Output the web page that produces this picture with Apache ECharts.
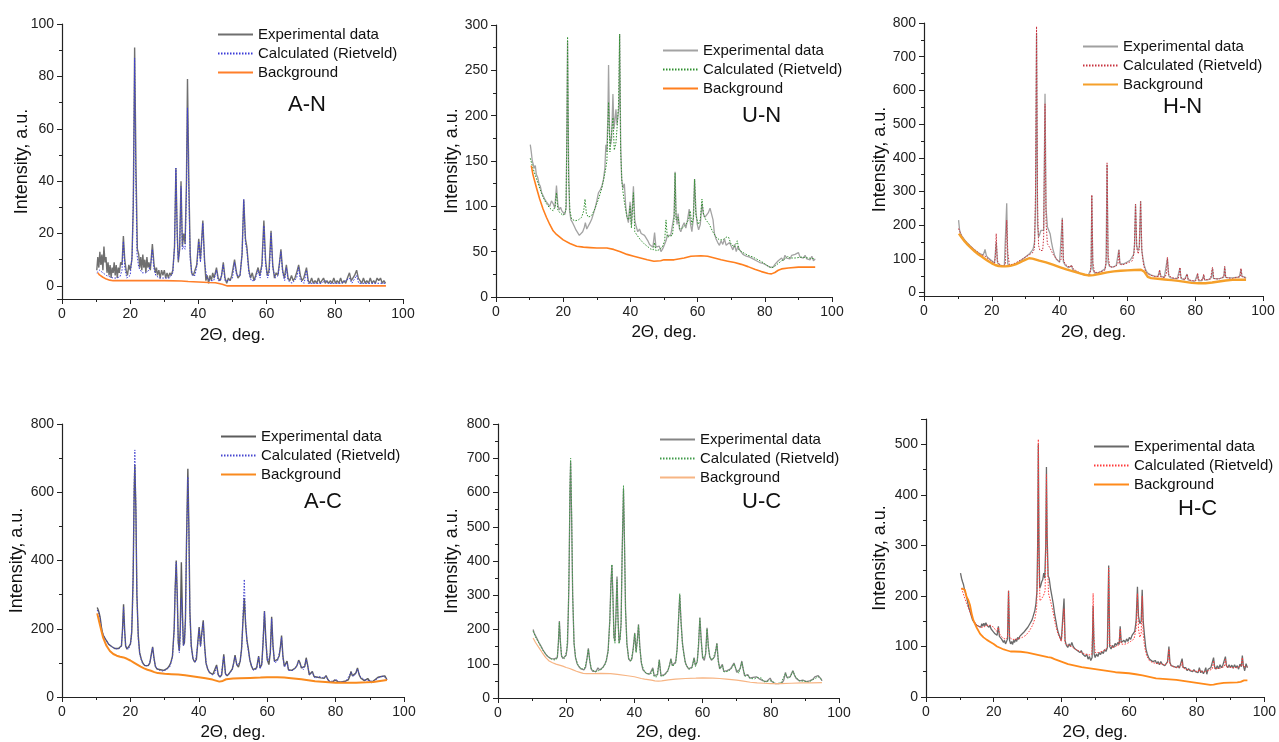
<!DOCTYPE html>
<html>
<head>
<meta charset="utf-8">
<title>XRD Rietveld refinement</title>
<script src="https://cdn.jsdelivr.net/npm/echarts@6/dist/echarts.min.js"></script>
<style>
  html, body { margin: 0; padding: 0; background: #fff; }
  #chart { width: 1279px; height: 742px; }
</style>
</head>
<body>
<div id="chart"></div>
<script>
// ---- Panel labels and legend entries ----
const panelNames = ['A-N', 'U-N', 'H-N', 'A-C', 'U-C', 'H-C'];
const legendNames = ['Experimental data', 'Calculated (Rietveld)', 'Background'];
const xTitle = '2\u0398, deg.';
const yTitle = 'Intensity, a.u.';

// ---- Diffraction data: flat [2theta, intensity, ...] lists ----
// A-N
const anExp = [10.2,6, 10.5,11, 10.8,7, 11.1,13, 11.4,8, 11.7,12, 12.0,6, 12.3,15, 12.6,9, 12.9,11, 13.2,5, 13.5,9, 13.8,4, 14.1,8, 14.4,3, 14.7,7, 15.0,5, 15.3,9, 15.6,4, 15.9,8, 16.2,3, 16.5,7, 16.8,5, 17.2,9, 17.6,8, 18.0,19, 18.4,10, 18.8,6, 19.2,4, 19.6,8, 20.0,6, 20.5,10, 20.9,30, 21.3,91, 21.7,45, 22.1,14, 22.5,12, 22.8,7, 23.1,11, 23.4,6, 23.7,12, 24.0,7, 24.3,10, 24.6,5, 24.9,11, 25.2,7, 25.5,9, 25.9,6, 26.5,16, 27.0,8, 27.4,5, 27.7,7, 28.0,4, 28.4,6, 28.8,3, 29.2,6, 29.6,4, 30.0,6, 30.4,3, 30.8,5, 31.2,3, 31.6,5, 32.0,4, 32.5,6, 33.0,15, 33.4,45, 33.8,20, 34.1,9, 34.5,14, 34.9,40, 35.3,15, 35.7,20, 36.1,16, 36.5,40, 36.8,79, 37.2,40, 37.6,12, 38.0,5, 38.5,4, 39.0,6, 39.5,8, 40.1,18, 40.6,10, 41.3,25, 41.8,10, 42.2,2, 42.6,4, 43.0,1, 43.4,4, 43.8,2, 44.2,5, 44.6,3, 45.3,7, 45.8,3, 46.3,2, 46.8,4, 47.3,9, 47.8,3, 48.3,1, 48.8,3, 49.3,2, 49.8,4, 50.6,10, 51.2,5, 51.6,3, 52.2,4, 52.8,12, 53.3,33, 53.8,18, 54.2,15, 54.8,6, 55.3,3, 55.8,5, 56.3,2, 56.8,4, 57.5,7, 58.0,4, 58.6,8, 59.2,25, 59.7,10, 60.2,4, 60.7,6, 61.3,21, 61.8,8, 62.3,3, 62.8,5, 63.3,4, 63.8,9, 64.2,14, 64.7,6, 65.2,3, 65.8,8, 66.3,3, 66.8,2, 67.3,4, 67.8,2, 68.3,3, 68.8,5, 69.4,8, 69.9,4, 70.4,2, 70.9,3, 71.7,7, 72.2,2, 72.7,1, 73.2,3, 73.7,1, 74.2,2, 74.7,1, 75.2,3, 75.7,1, 76.2,2, 76.7,3, 77.2,1, 77.7,2, 78.2,1, 78.7,2, 79.2,1, 79.7,3, 80.2,1, 80.7,2, 81.2,1, 81.7,3, 82.2,1, 82.7,2, 83.2,1, 83.7,3, 84.3,5, 84.8,2, 85.3,3, 85.8,4, 86.4,6, 86.9,3, 87.4,2, 87.9,1, 88.4,3, 88.9,1, 89.4,2, 89.9,1, 90.4,3, 90.9,1, 91.4,2, 91.9,1, 92.4,3, 92.9,2, 93.4,3, 93.9,1, 94.4,2, 94.9,1, 95.0,1];
const anCalc = [10.2,5, 11,6, 12,5, 13,4, 14,3.5, 15,3, 16,3, 17,3.5, 17.6,6, 18,17, 18.4,7, 19,3, 20,4, 20.6,12, 21.0,40, 21.3,87, 21.6,45, 22.0,12, 22.5,7, 23.5,5, 24.5,5, 25.5,6, 26.1,9, 26.5,14, 26.9,7, 27.5,4, 28.5,3, 30,3, 31.5,3, 32.5,5, 33.0,15, 33.4,45, 33.8,18, 34.1,10, 34.5,14, 34.9,38, 35.3,14, 35.7,15, 36.1,14, 36.5,35, 36.8,68, 37.2,35, 37.6,10, 38.2,4, 39.0,4, 39.6,8, 40.1,17, 40.6,9, 41.3,24, 41.8,9, 42.5,3, 43.5,2, 44.5,2, 45.3,6, 45.8,2, 46.5,2, 47.3,8, 47.8,2, 49,2, 50,3, 50.6,9, 51.2,4, 52.2,4, 52.8,12, 53.3,33, 53.8,16, 54.2,14, 54.8,5, 55.5,2, 56.5,2, 57.5,6, 58.1,3, 58.7,8, 59.2,23, 59.7,8, 60.3,3, 60.8,5, 61.3,20, 61.8,7, 62.5,3, 63.4,4, 63.9,10, 64.2,13, 64.7,5, 65.3,2, 65.8,7, 66.3,2, 67.5,1, 68.8,3, 69.4,7, 69.9,2, 71,1, 71.7,6, 72.2,1, 74,1, 76,1, 77.2,2, 78,1, 80,1, 82,1, 84.3,3, 85,1, 86.4,4, 87,1, 90,1, 92,1, 95,1];
const anBg = [10.5,5, 11,4.2, 12,3.3, 13,2.6, 14,2.2, 15,2, 20,2, 25,2, 30,2, 35,1.9, 37,1.7, 40,1.5, 43,1.3, 45,1.2, 47,0.6, 48.5,0, 60,0, 70,0, 80,0, 90,0, 95,0];

// U-N
const unExp = [10.2,168, 10.5,160, 10.8,150, 11.1,152, 11.4,142, 11.7,145, 12.0,135, 12.4,132, 12.8,125, 13.2,122, 13.6,115, 14.0,113, 14.5,108, 15.0,105, 15.5,103, 16.0,100, 16.5,106, 17.0,103, 17.5,98, 18.0,123, 18.4,102, 18.8,96, 19.2,99, 19.6,95, 20.0,93, 20.5,91, 20.9,100, 21.3,282, 21.6,150, 21.9,95, 22.3,85, 22.8,82, 23.3,78, 23.8,74, 24.3,71, 24.8,68, 25.3,70, 25.8,72, 26.3,77, 26.6,82, 27.0,75, 27.5,77, 28.0,82, 28.5,86, 29.0,92, 29.5,98, 30.0,106, 30.5,115, 31.0,118, 31.5,122, 32.0,130, 32.4,142, 32.7,168, 33.0,160, 33.3,200, 33.5,256, 33.8,180, 34.1,168, 34.4,175, 34.8,224, 35.1,185, 35.4,195, 35.7,207, 36.0,190, 36.3,200, 36.6,210, 36.8,290, 37.1,170, 37.4,130, 37.8,120, 38.2,125, 38.6,100, 39.0,88, 39.4,82, 39.9,105, 40.3,80, 40.6,78, 40.9,122, 41.3,85, 41.7,78, 42.2,72, 42.7,75, 43.2,70, 43.7,72, 44.2,68, 44.7,66, 45.2,62, 45.7,58, 46.2,58, 46.7,55, 47.2,71, 47.6,55, 48.1,53, 48.6,56, 49.1,50, 49.6,53, 50.1,55, 50.6,62, 51.0,68, 51.5,66, 52.0,68, 52.5,70, 53.0,90, 53.3,138, 53.6,90, 53.9,80, 54.2,92, 54.6,75, 55.0,72, 55.5,78, 56.0,82, 56.5,76, 57.0,85, 57.5,97, 57.9,80, 58.3,72, 58.7,85, 59.1,130, 59.5,95, 59.9,80, 60.3,74, 60.8,80, 61.3,103, 61.7,92, 62.2,88, 62.7,90, 63.2,93, 63.7,98, 64.2,96, 64.6,85, 65.0,70, 65.5,64, 66.0,60, 66.5,57, 67.0,62, 67.5,58, 68.0,64, 68.5,57, 69.0,55, 69.5,60, 70.0,56, 70.5,52, 71.0,58, 71.5,50, 72.0,56, 72.5,52, 73.0,50, 73.5,47, 74.0,49, 74.5,45, 75.0,47, 75.5,44, 76.0,45, 76.5,42, 77.0,44, 77.5,40, 78.0,42, 78.5,38, 79.0,40, 79.5,37, 80.0,38, 80.5,35, 81.0,37, 81.5,33, 82.0,34, 82.5,33, 83.0,36, 83.5,35, 84.0,40, 84.5,38, 85.0,43, 85.5,40, 86.0,46, 86.5,43, 87.0,44, 87.5,42, 88.0,46, 88.5,44, 89.0,47, 89.5,45, 90.0,49, 90.5,44, 91.0,46, 91.5,43, 92.0,46, 92.5,42, 93.0,44, 93.5,41, 94.0,45, 94.5,40, 95.0,42];
const unCalc = [10.2,153, 11,142, 12,131, 13,120, 14,110, 15,103, 16,98, 17,95, 17.6,100, 18.0,115, 18.4,96, 19,93, 20,90, 20.8,95, 21.1,180, 21.3,287, 21.6,130, 22,95, 22.5,86, 23.5,84, 24.5,85, 25.5,88, 26.1,95, 26.5,108, 26.9,92, 27.5,88, 28.5,90, 29.5,98, 30.5,108, 31.5,120, 32.5,138, 33.0,150, 33.5,215, 33.9,160, 34.4,162, 34.8,198, 35.2,162, 35.7,170, 36.2,195, 36.5,215, 36.8,290, 37.1,160, 37.5,125, 38,110, 38.5,98, 39,88, 39.5,85, 39.9,100, 40.3,76, 40.9,115, 41.3,72, 42,68, 43,63, 44,59, 45,56, 46,53, 46.8,52, 47.2,60, 47.6,51, 48.5,52, 49.5,55, 50.2,62, 50.6,85, 51,66, 51.5,66, 52.5,68, 53.0,85, 53.3,137, 53.6,85, 54.2,88, 54.7,75, 55.5,76, 56.5,80, 57.3,85, 57.8,95, 58.3,80, 58.8,88, 59.1,130, 59.5,90, 60.2,80, 60.8,85, 61.3,108, 61.8,90, 62.5,85, 63.5,80, 64.5,72, 65.5,66, 66.5,63, 67.5,63, 68.5,66, 69.2,66, 70,58, 71,55, 71.8,62, 72.3,52, 73.5,49, 75,46, 76.5,44, 78,41, 79.5,38, 81,34, 82,32, 83,34, 84,37, 85,40, 86,42, 86.8,45, 87.5,43, 89,43, 91,44, 93,43, 95,42];
const unBg = [10.5,145, 11,135, 12,121, 13,108, 14,97, 15,88, 16,80, 17,73, 18,69, 19,66, 20,63, 22,59, 24,56, 26,55, 28,54.5, 30,54, 33,54, 35,52.5, 37,50, 39,47, 41,45, 43,43, 45,41, 47,39.5, 49,40, 50,41, 53,41, 56,43, 58,45, 61,45.5, 63,45, 65,43, 67,41, 69,39.5, 71,38, 73,36, 75,33.5, 77,30.5, 79,28, 81,26, 82,25.5, 83,27, 84,29.5, 85,31, 87,32, 90,33, 93,33, 95,33];

// H-N
const hnExp = [10.2,215, 10.5,185, 10.8,175, 11.2,168, 11.6,162, 12.0,158, 12.5,150, 13.0,145, 13.5,140, 14.0,136, 14.5,130, 15.0,128, 15.5,122, 16.0,120, 16.5,115, 17.0,118, 17.5,112, 18.0,128, 18.4,110, 18.8,104, 19.3,100, 19.8,96, 20.3,92, 20.8,88, 21.3,150, 21.7,88, 22.2,84, 22.7,80, 23.2,79, 23.7,80, 24.1,85, 24.4,265, 24.7,85, 25.2,78, 25.7,80, 26.2,82, 26.7,84, 27.2,86, 27.7,88, 28.2,92, 28.7,96, 29.2,100, 29.7,104, 30.2,108, 30.7,112, 31.2,116, 31.7,122, 32.2,130, 32.6,150, 32.9,250, 33.2,770, 33.5,200, 33.8,165, 34.1,172, 34.5,185, 34.9,180, 35.3,185, 35.7,590, 36.0,250, 36.4,195, 36.8,198, 37.2,175, 37.6,150, 38.0,130, 38.5,112, 39.0,100, 39.5,95, 40.0,90, 40.5,95, 40.8,222, 41.1,92, 41.6,82, 42.1,78, 42.6,74, 43.1,72, 43.5,80, 43.9,68, 44.5,64, 45.0,62, 45.5,60, 46.0,57, 46.5,55, 47.0,54, 47.5,52, 48.0,52, 48.5,53, 49.0,55, 49.3,70, 49.5,288, 49.8,70, 50.3,58, 50.8,57, 51.3,59, 51.8,61, 52.3,63, 52.8,66, 53.3,70, 53.7,85, 54.0,380, 54.3,90, 54.7,78, 55.2,74, 55.7,76, 56.2,78, 56.7,80, 57.2,85, 57.5,128, 57.8,85, 58.3,82, 58.8,85, 59.3,88, 59.8,90, 60.3,93, 60.8,96, 61.3,100, 61.8,112, 62.1,140, 62.4,262, 62.7,140, 63.1,125, 63.5,135, 63.9,272, 64.2,130, 64.6,100, 65.0,80, 65.5,65, 66.0,58, 66.5,55, 67.0,52, 67.5,50, 68.0,49, 68.5,47, 69.0,48, 69.5,65, 69.9,48, 70.4,46, 70.9,45, 71.4,50, 71.8,102, 72.2,50, 72.7,44, 73.2,43, 73.7,42, 74.2,44, 74.7,41, 75.2,45, 75.5,73, 75.8,42, 76.3,40, 76.8,38, 77.3,40, 77.6,55, 77.9,38, 78.4,36, 78.9,35, 79.4,36, 79.9,34, 80.4,36, 80.7,55, 81.0,35, 81.5,34, 82.0,36, 82.5,52, 82.8,37, 83.3,36, 83.8,38, 84.3,37, 84.8,45, 85.1,72, 85.4,42, 85.9,40, 86.4,41, 86.9,40, 87.4,42, 87.9,41, 88.4,45, 88.7,76, 89.0,45, 89.5,43, 90.0,44, 90.5,42, 91.0,44, 91.5,43, 92.0,45, 92.5,42, 93.0,46, 93.5,70, 93.8,48, 94.3,44, 94.7,46, 95.0,42];
const hnCalc = [10.2,190, 11,170, 12,155, 13,145, 14,135, 15,127, 16,119, 17,112, 18,108, 19,100, 20,92, 20.8,87, 21.1,110, 21.3,175, 21.6,95, 22.2,84, 23,80, 24.0,82, 24.2,150, 24.4,215, 24.7,120, 25.2,82, 26,84, 27,88, 28,94, 29,100, 30,106, 31,112, 32,118, 32.6,130, 32.9,300, 33.2,790, 33.5,260, 33.8,140, 34.2,125, 34.6,120, 35.0,125, 35.3,165, 35.7,560, 36.0,210, 36.4,145, 36.8,140, 37.3,130, 38,115, 39,100, 40,92, 40.5,100, 40.8,218, 41.1,100, 41.6,85, 42.5,78, 43.2,75, 43.5,82, 43.9,72, 45,64, 46,58, 47,54, 48,52, 49,54, 49.3,90, 49.5,290, 49.8,90, 50.3,60, 51.5,60, 52.5,63, 53.5,68, 53.8,110, 54.0,385, 54.3,110, 54.8,78, 55.5,75, 56.5,78, 57.2,85, 57.5,125, 57.8,85, 58.5,82, 59.5,86, 60.5,90, 61.5,95, 62.0,120, 62.4,262, 62.8,130, 63.2,115, 63.5,130, 63.9,270, 64.3,120, 64.8,80, 65.5,60, 66.5,53, 68,48, 69.2,48, 69.5,68, 69.8,47, 71,45, 71.5,55, 71.8,105, 72.1,55, 73,44, 75,42, 75.2,50, 75.5,75, 75.8,45, 77,38, 77.6,55, 78,38, 80,34, 80.5,40, 80.7,58, 81,38, 82.3,38, 82.5,55, 82.8,38, 84.5,40, 85.1,75, 85.5,42, 87,40, 88.5,48, 88.7,78, 89,45, 91,42, 93.3,48, 93.5,72, 93.8,48, 95,42];
const hnBg = [10.3,175, 11,165, 12,152, 13,141, 14,131, 15,122, 16,114, 17,107, 18,100, 19,93, 20,87, 21,82, 22,79, 23,78, 24,78, 25,79, 26,81, 27,84, 28,88, 29,93, 30,98, 31,102, 31.5,103, 32,101, 33,98, 34,95, 36,90, 38,83, 40,76, 42,69, 44,63, 46,57, 47.5,53, 48.5,51, 50,52, 52,56, 54,60, 56,63, 58,65, 60,66, 62,67, 64,68, 65,62, 66,47, 67,43, 69,41, 71,39, 73,37, 75,35, 77,32, 79,29, 81,28, 83,28, 85,30, 87,33, 89,36, 91,38, 93,38, 95,38];

// A-C
const acExp = [10.3,262, 10.6,255, 10.9,245, 11.2,230, 11.6,200, 12.0,182, 12.4,175, 12.8,168, 13.2,162, 13.6,155, 14.0,152, 14.5,148, 15.0,145, 15.5,142, 16.0,140, 16.5,142, 17.0,140, 17.4,150, 17.7,200, 18.0,272, 18.3,200, 18.6,150, 19.0,140, 19.5,142, 20.0,155, 20.4,190, 20.8,350, 21.1,600, 21.3,680, 21.6,550, 21.9,300, 22.3,180, 22.7,130, 23.2,110, 23.7,98, 24.2,92, 24.7,90, 25.2,92, 25.7,100, 26.1,125, 26.5,147, 26.9,115, 27.3,90, 27.8,82, 28.3,78, 28.8,80, 29.3,76, 29.8,78, 30.3,80, 30.8,84, 31.3,90, 31.8,100, 32.3,120, 32.8,200, 33.1,320, 33.4,400, 33.7,300, 34.0,160, 34.3,135, 34.6,210, 34.9,395, 35.2,250, 35.5,152, 35.8,160, 36.1,230, 36.4,450, 36.8,669, 37.1,500, 37.4,250, 37.8,150, 38.3,112, 38.8,102, 39.3,110, 39.7,160, 40.1,205, 40.5,150, 40.9,190, 41.3,225, 41.7,150, 42.1,100, 42.6,82, 43.1,72, 43.6,68, 44.1,66, 44.6,70, 45.2,94, 45.7,65, 46.2,58, 46.7,65, 47.3,125, 47.8,68, 48.3,62, 48.8,68, 49.3,75, 49.8,82, 50.2,100, 50.6,123, 51.1,95, 51.6,88, 52.1,105, 52.5,140, 52.9,220, 53.3,290, 53.7,210, 54.1,165, 54.5,140, 54.9,110, 55.4,90, 55.9,80, 56.4,75, 56.9,85, 57.5,120, 57.9,85, 58.4,95, 58.8,160, 59.2,252, 59.6,170, 60.0,110, 60.5,95, 60.9,130, 61.3,235, 61.7,150, 62.1,105, 62.6,100, 63.0,110, 63.5,120, 63.9,150, 64.2,180, 64.6,120, 65.0,90, 65.4,85, 65.8,105, 66.2,80, 66.7,75, 67.2,78, 67.7,82, 68.2,85, 68.7,92, 69.2,108, 69.6,100, 70.0,85, 70.5,80, 71.0,90, 71.4,115, 71.8,95, 72.3,65, 72.8,68, 73.2,75, 73.7,60, 74.2,55, 74.7,58, 75.2,62, 75.7,56, 76.2,60, 76.7,55, 77.2,63, 77.7,52, 78.2,45, 78.7,47, 79.2,44, 79.7,50, 80.2,55, 80.7,45, 81.2,42, 81.7,44, 82.2,43, 82.7,46, 83.2,45, 83.7,50, 84.2,62, 84.5,75, 84.9,62, 85.4,58, 85.9,70, 86.4,85, 86.9,65, 87.4,55, 87.9,52, 88.4,48, 88.9,50, 89.4,54, 89.9,48, 90.4,42, 90.9,45, 91.4,50, 91.9,55, 92.4,58, 92.9,62, 93.4,60, 93.9,65, 94.4,62, 94.8,55, 95.0,50];
const acCalc = [10.3,255, 11,238, 11.6,195, 12.5,172, 13.5,156, 14.5,148, 15.5,142, 16.5,140, 17.3,148, 17.7,190, 18.0,262, 18.3,190, 18.7,145, 19.5,140, 20.2,165, 20.6,250, 20.9,420, 21.1,620, 21.3,724, 21.6,560, 21.9,300, 22.3,170, 22.8,122, 23.5,100, 24.5,90, 25.5,96, 26.1,120, 26.5,145, 26.9,110, 27.4,88, 28.5,78, 29.5,76, 30.5,80, 31.5,88, 32.3,115, 32.8,195, 33.1,320, 33.4,395, 33.7,290, 34.0,160, 34.3,130, 34.6,180, 34.9,290, 35.2,230, 35.5,150, 35.8,160, 36.1,225, 36.4,440, 36.8,645, 37.1,480, 37.4,240, 37.8,145, 38.4,108, 39.0,102, 39.7,155, 40.1,200, 40.5,148, 40.9,185, 41.3,218, 41.7,145, 42.2,95, 43,72, 44,65, 44.7,70, 45.2,90, 45.7,62, 46.5,60, 47.3,120, 47.8,65, 48.8,66, 49.8,80, 50.6,118, 51.2,92, 52.1,105, 52.6,150, 53.0,260, 53.3,345, 53.7,220, 54.1,160, 54.5,135, 55,105, 56,78, 56.9,82, 57.5,118, 57.9,82, 58.5,100, 58.9,190, 59.2,250, 59.6,160, 60.1,105, 60.9,125, 61.3,230, 61.7,145, 62.2,100, 63,105, 63.8,140, 64.2,175, 64.6,115, 65.1,88, 65.8,100, 66.3,78, 67.5,78, 68.5,88, 69.2,105, 69.8,92, 70.6,80, 71.4,110, 71.9,88, 72.4,65, 73.2,72, 74,55, 75.2,60, 76.2,57, 77.2,60, 78,47, 79.5,46, 80.2,52, 81,44, 83,45, 84.5,72, 85.2,60, 85.9,68, 86.4,82, 87.2,60, 88.5,50, 90,48, 91,45, 92.5,56, 93.9,62, 95,52];
const acBg = [10.3,245, 11,215, 11.5,195, 12,175, 13,150, 14,135, 15,126, 16,121, 17,118, 18,116, 19,112, 20,107, 21,101, 22,95, 23,89, 24,84, 25,80, 26,77, 27,73, 28,70, 30,68, 32,67, 34,66, 36,64, 38,61, 40,58, 42,55, 44,51, 45,48, 46,45, 47,47, 48,52, 50,54, 52,55, 55,56, 58,57, 60,58, 63,58, 65,57, 67,55, 70,52, 72,49, 74,46, 76,45, 78,43, 80,42, 83,42, 86,42, 89,43, 91,44, 93,47, 95,50];

// U-C
const ucExp = [10.3,200, 10.6,190, 10.9,185, 11.2,178, 11.6,170, 12.0,162, 12.4,155, 12.8,148, 13.2,140, 13.6,135, 14.0,128, 14.5,122, 15.0,118, 15.5,115, 16.0,112, 16.5,114, 17.0,112, 17.4,118, 17.7,160, 18.0,225, 18.3,165, 18.6,125, 19.0,115, 19.5,115, 20.0,125, 20.4,160, 20.8,330, 21.1,600, 21.3,690, 21.6,520, 21.9,300, 22.3,160, 22.7,120, 23.2,100, 23.7,92, 24.2,86, 24.7,82, 25.2,82, 25.7,90, 26.1,115, 26.5,145, 26.9,110, 27.3,85, 27.8,78, 28.3,75, 28.8,78, 29.3,88, 29.8,82, 30.3,85, 30.8,90, 31.3,98, 31.8,110, 32.3,140, 32.8,230, 33.1,330, 33.4,388, 33.7,300, 34.0,180, 34.3,165, 34.6,250, 34.9,355, 35.2,230, 35.5,162, 35.8,175, 36.1,220, 36.4,420, 36.8,610, 37.1,450, 37.4,260, 37.8,160, 38.3,115, 38.8,108, 39.3,115, 39.7,150, 40.1,190, 40.5,135, 40.9,175, 41.2,215, 41.6,150, 42.0,105, 42.5,82, 43.0,78, 43.5,72, 44.0,76, 44.5,70, 45.0,75, 45.4,88, 45.8,65, 46.3,60, 46.8,68, 47.3,112, 47.8,65, 48.3,60, 48.8,68, 49.3,72, 49.8,80, 50.3,95, 50.7,115, 51.1,95, 51.6,92, 52.1,105, 52.5,140, 52.9,220, 53.3,300, 53.7,220, 54.1,160, 54.5,130, 54.9,105, 55.4,92, 55.9,85, 56.4,82, 56.9,90, 57.5,118, 57.9,95, 58.4,105, 58.8,150, 59.2,235, 59.6,170, 60.0,118, 60.5,110, 60.9,130, 61.3,205, 61.7,150, 62.1,120, 62.6,110, 63.0,115, 63.5,120, 63.9,140, 64.2,160, 64.6,110, 65.0,85, 65.4,88, 65.8,98, 66.2,78, 66.7,75, 67.2,80, 67.7,78, 68.2,85, 68.7,90, 69.2,102, 69.6,90, 70.0,75, 70.5,70, 71.0,85, 71.5,108, 71.9,85, 72.3,65, 72.8,62, 73.3,68, 73.8,58, 74.3,55, 74.8,60, 75.3,55, 75.8,62, 76.3,58, 76.8,55, 77.3,60, 77.8,50, 78.3,45, 78.8,48, 79.3,52, 79.8,58, 80.3,48, 80.8,45, 81.3,42, 81.8,40, 82.3,42, 82.8,45, 83.3,44, 83.8,52, 84.3,75, 84.7,60, 85.2,55, 85.7,62, 86.1,72, 86.5,80, 86.9,68, 87.4,58, 87.9,55, 88.4,50, 88.9,48, 89.4,52, 89.9,50, 90.4,48, 90.9,45, 91.4,50, 91.9,52, 92.4,55, 92.9,62, 93.4,58, 93.9,65, 94.4,60, 94.8,55, 95.0,50];
const ucCalc = [10.3,195, 11,178, 12,160, 13,142, 14,128, 15,118, 16,112, 17,111, 17.4,120, 17.7,160, 18.0,222, 18.3,160, 18.7,120, 19.5,115, 20.2,140, 20.6,240, 20.9,420, 21.1,620, 21.3,700, 21.6,540, 21.9,300, 22.3,160, 22.8,115, 23.5,95, 24.5,85, 25.5,88, 26.1,115, 26.5,143, 26.9,108, 27.4,85, 28.5,76, 29.5,80, 30.5,85, 31.5,100, 32.3,135, 32.8,225, 33.1,330, 33.4,390, 33.7,295, 34.0,175, 34.3,160, 34.6,235, 34.9,345, 35.2,225, 35.5,158, 35.8,170, 36.1,215, 36.4,415, 36.8,620, 37.1,455, 37.4,255, 37.8,155, 38.4,112, 39.0,108, 39.7,145, 40.1,188, 40.5,132, 40.9,172, 41.2,212, 41.6,145, 42.1,100, 43,76, 44,70, 45,72, 45.4,85, 45.8,62, 46.6,62, 47.3,110, 47.8,63, 48.8,66, 49.8,78, 50.7,112, 51.2,92, 52.1,102, 52.6,150, 53.0,240, 53.3,305, 53.7,215, 54.1,155, 54.5,128, 55,100, 56,84, 56.9,88, 57.5,115, 57.9,92, 58.5,110, 58.9,180, 59.2,232, 59.6,160, 60.1,115, 60.9,128, 61.3,202, 61.7,145, 62.2,115, 63,112, 63.8,138, 64.2,158, 64.6,105, 65.1,85, 65.8,95, 66.3,76, 67.5,78, 68.5,86, 69.2,100, 69.8,85, 70.6,72, 71.5,105, 72,80, 72.5,63, 73.3,66, 74,57, 75.3,56, 76,60, 77.3,58, 78,47, 79.5,50, 80.2,50, 81.5,42, 83,44, 84.3,72, 85,57, 85.8,63, 86.5,78, 87.2,62, 88.5,50, 90,49, 91,46, 92.5,54, 93.9,62, 95,52];
const ucBg = [10.3,175, 11,162, 12,147, 13,132, 14,118, 15,108, 16,103, 17,99, 18,96, 19,93, 20,89, 21,86, 22,82, 23,78, 24,75, 25,72, 26,71, 28,71, 30,72, 33,71, 35,69, 38,65, 40,62, 42,57, 43,55, 45,52, 46,50, 47,49, 48,50, 50,53, 52,55, 55,57, 58,58, 60,59, 63,58, 65,57, 67,55, 70,52, 72,49, 74,46, 76,44, 78,43, 80,42, 83,42, 86,43, 89,44, 92,44, 95,45];

// H-C
const hcExp = [10.2,245, 10.5,235, 10.8,228, 11.1,222, 11.4,212, 11.7,205, 12.0,198, 12.3,188, 12.6,178, 12.9,172, 13.2,165, 13.5,158, 13.8,152, 14.1,150, 14.4,146, 14.7,148, 15.0,142, 15.3,145, 15.6,140, 15.9,143, 16.2,138, 16.5,145, 16.8,140, 17.1,146, 17.4,141, 17.7,147, 18.0,142, 18.3,145, 18.6,138, 18.9,142, 19.2,135, 19.5,138, 19.8,130, 20.1,132, 20.4,125, 20.7,128, 21.0,122, 21.4,140, 21.7,120, 22.0,118, 22.3,115, 22.6,112, 22.9,108, 23.2,112, 23.5,105, 23.8,110, 24.1,115, 24.4,210, 24.7,112, 25.0,105, 25.3,110, 25.6,104, 25.9,112, 26.2,108, 26.5,115, 26.8,110, 27.1,118, 27.4,114, 27.7,120, 28.0,118, 28.3,124, 28.6,122, 28.9,128, 29.2,126, 29.5,133, 29.8,131, 30.1,138, 30.4,136, 30.7,145, 31.0,143, 31.3,152, 31.6,158, 31.9,165, 32.2,172, 32.5,185, 32.8,210, 33.0,300, 33.2,500, 33.4,300, 33.6,215, 33.9,220, 34.2,228, 34.5,232, 34.8,245, 35.1,235, 35.4,300, 35.6,455, 35.8,320, 36.1,240, 36.4,235, 36.8,215, 37.2,200, 37.6,185, 38.0,165, 38.4,150, 38.8,135, 39.2,125, 39.6,118, 40.0,112, 40.4,110, 40.8,195, 41.1,112, 41.5,102, 41.9,98, 42.3,105, 42.7,100, 43.1,108, 43.5,100, 43.9,96, 44.3,98, 44.7,92, 45.1,95, 45.5,88, 45.9,92, 46.3,85, 46.7,88, 47.1,80, 47.5,85, 47.9,75, 48.3,80, 48.7,72, 49.1,78, 49.4,180, 49.7,85, 50.0,78, 50.4,85, 50.8,80, 51.2,88, 51.6,84, 52.0,90, 52.4,86, 52.8,94, 53.2,90, 53.6,98, 54.0,260, 54.3,100, 54.7,95, 55.1,102, 55.5,98, 55.9,106, 56.3,102, 56.7,108, 57.1,104, 57.4,140, 57.7,108, 58.1,105, 58.5,112, 58.9,108, 59.3,115, 59.7,110, 60.1,118, 60.5,114, 60.9,122, 61.3,120, 61.7,130, 62.1,150, 62.5,218, 62.8,160, 63.2,145, 63.6,150, 63.9,212, 64.2,150, 64.6,120, 65.0,95, 65.4,85, 65.8,78, 66.2,74, 66.6,72, 67.0,70, 67.4,68, 67.8,72, 68.2,66, 68.6,70, 69.0,64, 69.4,70, 69.8,65, 70.2,68, 70.6,62, 71.0,66, 71.4,70, 71.8,100, 72.1,68, 72.5,62, 72.9,65, 73.3,60, 73.7,63, 74.1,58, 74.5,62, 74.9,57, 75.3,60, 75.7,76, 76.0,58, 76.4,55, 76.8,58, 77.2,52, 77.6,56, 78.0,52, 78.4,55, 78.8,50, 79.2,54, 79.6,50, 80.0,53, 80.4,48, 80.8,58, 81.2,48, 81.6,52, 82.0,46, 82.4,52, 82.7,58, 83.0,45, 83.4,55, 83.8,52, 84.2,58, 84.6,55, 85.0,78, 85.3,60, 85.7,55, 86.1,62, 86.5,56, 86.9,64, 87.3,58, 87.7,62, 88.1,60, 88.5,80, 88.8,62, 89.2,58, 89.6,64, 90.0,58, 90.4,63, 90.8,57, 91.2,64, 91.6,58, 92.0,62, 92.4,55, 92.8,65, 93.2,60, 93.5,82, 93.8,62, 94.2,52, 94.6,66, 95.0,58];
const hcCalc = [10.5,215, 11,205, 12,185, 13,168, 14,152, 15,142, 16,138, 17,138, 18,142, 19,142, 20,138, 20.8,130, 21.1,128, 21.4,138, 21.7,125, 22.5,118, 23.5,114, 24.1,118, 24.4,210, 24.7,118, 25.5,114, 26.5,114, 27.5,116, 28.5,118, 29.5,122, 30.5,130, 31.5,142, 32.2,155, 32.7,175, 33.0,260, 33.2,510, 33.4,260, 33.7,190, 34.2,195, 34.7,200, 35.2,210, 35.4,280, 35.6,440, 35.8,300, 36.2,205, 36.8,190, 37.5,170, 38.2,145, 39,125, 40,110, 40.5,108, 40.8,175, 41.1,106, 42,102, 43,100, 44,95, 45,92, 46,88, 47,85, 48,83, 49,84, 49.2,120, 49.4,205, 49.6,120, 50,88, 51,88, 52,90, 53,93, 53.7,100, 54.0,255, 54.3,105, 55,98, 56,100, 57,103, 57.4,135, 57.7,105, 58.5,104, 59.5,106, 60.5,110, 61.5,115, 62.1,135, 62.5,205, 62.8,135, 63.2,118, 63.6,125, 63.9,200, 64.2,125, 64.6,100, 65.2,82, 66,72, 67,68, 68.5,66, 69.5,66, 70.5,63, 71.4,68, 71.8,95, 72.1,64, 73,60, 74.5,58, 75.4,62, 75.7,70, 76,57, 77.5,54, 79,52, 80.5,50, 80.8,55, 81.1,50, 82.5,50, 83,52, 84.6,55, 85.0,72, 85.3,56, 87,57, 88.2,60, 88.5,75, 88.8,60, 90.5,58, 92,58, 93.2,62, 93.5,78, 93.8,60, 95,60];
const hcBg = [10.5,215, 11.5,212, 12,198, 12.5,192, 13,182, 13.5,165, 14,152, 14.5,144, 15,137, 16,125, 17,118, 18,113, 19,109, 20,105, 21,100, 22,97, 23,94, 24,92, 25,90, 26,90, 28,89.5, 30,88, 32,85, 34,82, 36,79, 37,78, 38,75, 40,70, 42,65, 44,62, 46,59, 48,57, 50,55, 52,53, 54,51, 56,49, 58,48, 60,47, 62,45, 64,43, 66,40, 68,37, 70,36, 72,35, 74,34, 76,32, 78,30, 80,28, 82,26, 84,24, 85,24.5, 86,26, 88,28, 90,28.5, 92,29, 93,30, 94,33, 95,33];

// ---- Layout and styling of the six panels ----
const FONT = 'Liberation Sans, Arial, sans-serif';
const panels = [
  { grid: {left: 62, top: 24, width: 341, height: 275}, y: {min: -5, max: 100, splitNumber: 5, showMinLabel: false},
    data: [anExp, anCalc, anBg], colors: ['#6f6f6f', '#3b3bd8', '#ff7f2a'], widths: [1.4, 1, 1.6],
    title: {left: 288, top: 94}, legend: {left: 217, top: 27}, yNameGap: 31, xNameGap: 28 },
  { grid: {left: 496, top: 25, width: 336, height: 272}, y: {min: 0, max: 300, interval: 50},
    data: [unExp, unCalc, unBg], colors: ['#a3a3a3', '#2f8f2f', '#ff7f1e'], widths: [1.3, 1, 1.6],
    title: {left: 742, top: 105}, legend: {left: 662, top: 43}, yNameGap: 35, xNameGap: 27 },
  { grid: {left: 924, top: 23, width: 339, height: 273}, y: {min: -10, max: 800, splitNumber: 8, showMinLabel: false},
    data: [hnExp, hnCalc, hnBg], colors: ['#a0a0a0', '#c8323e', '#f5a02a'], widths: [1.3, 1, 2.4],
    title: {left: 1163, top: 96}, legend: {left: 1082, top: 39}, yNameGap: 35, xNameGap: 28 },
  { grid: {left: 62, top: 424, width: 342, height: 275}, y: {min: 0, max: 800, interval: 200},
    data: [acExp, acCalc, acBg], colors: ['#5c5c5c', '#4646d0', '#f98a1e'], widths: [1.4, 1, 2],
    title: {left: 304, top: 491}, legend: {left: 220, top: 429}, yNameGap: 36, xNameGap: 27 },
  { grid: {left: 498, top: 424, width: 341, height: 276}, y: {min: 0, max: 800, interval: 100},
    data: [ucExp, ucCalc, ucBg], colors: ['#858585', '#3f9a48', '#f7b584'], widths: [1.3, 1, 1.2],
    title: {left: 742, top: 491}, legend: {left: 659, top: 432}, yNameGap: 37, xNameGap: 26 },
  { grid: {left: 926, top: 419, width: 342, height: 278}, y: {min: 0, max: 550, interval: 100, showMaxLabel: false},
    data: [hcExp, hcCalc, hcBg], colors: ['#696969', '#ff3a3a', '#ff8a1a'], widths: [1.3, 1, 1.8],
    title: {left: 1178, top: 498}, legend: {left: 1093, top: 439}, yNameGap: 37, xNameGap: 27 }
];

function toPairs(flat) {
  const out = [];
  for (let i = 0; i < flat.length; i += 2) out.push([flat[i], flat[i + 1]]);
  return out;
}

const axisColor = '#222';
const grid = [], xAxis = [], yAxis = [], series = [], legend = [], title = [];

panels.forEach((p, i) => {
  grid.push(Object.assign({containLabel: false}, p.grid));
  xAxis.push({
    type: 'value', gridIndex: i, min: 0, max: 100, interval: 20,
    name: xTitle, nameLocation: 'middle', nameGap: p.xNameGap, nameMoveOverlap: false,
    nameTextStyle: {fontFamily: FONT, fontSize: 17, color: '#111'},
    axisLine: {show: true, onZero: false, lineStyle: {color: axisColor, width: 1.2}},
    axisTick: {show: true, inside: false, length: 5, lineStyle: {color: axisColor}},
    minorTick: {show: true, splitNumber: 2, length: 3, lineStyle: {color: axisColor}},
    axisLabel: {fontFamily: FONT, fontSize: 14, color: '#222', margin: 8},
    splitLine: {show: false}
  });
  yAxis.push(Object.assign({
    type: 'value', gridIndex: i,
    name: yTitle, nameLocation: 'middle', nameGap: p.yNameGap, nameMoveOverlap: false,
    nameTextStyle: {fontFamily: FONT, fontSize: 18, color: '#111'},
    axisLine: {show: true, onZero: false, lineStyle: {color: axisColor, width: 1.2}},
    axisTick: {show: true, inside: false, length: 5, lineStyle: {color: axisColor}},
    minorTick: {show: true, splitNumber: 2, length: 3, lineStyle: {color: axisColor}},
    axisLabel: {fontFamily: FONT, fontSize: 14, color: '#222', margin: 8},
    splitLine: {show: false}
  }, {
    min: p.y.min, max: p.y.max,
    interval: p.y.interval, splitNumber: p.y.splitNumber
  }));
  if (p.y.showMinLabel === false) yAxis[i].axisLabel.showMinLabel = false;
  if (p.y.showMaxLabel === false) yAxis[i].axisLabel.showMaxLabel = false;

  const names = legendNames.map(n => n + '#' + i);
  const styles = ['solid', [1.5, 1.5], 'solid'];
  p.data.forEach((d, k) => {
    series.push({
      type: 'line', name: names[k], xAxisIndex: i, yAxisIndex: i,
      data: toPairs(d), symbol: 'none', showSymbol: false, smooth: false,
      animation: false, silent: true, clip: true,
      lineStyle: {color: p.colors[k], width: p.widths[k], type: styles[k]},
      itemStyle: {color: p.colors[k]},
      z: 2 + k
    });
  });
  legend.push({
    data: names, orient: 'vertical', left: p.legend.left, top: p.legend.top,
    itemWidth: 35, itemHeight: 14, itemGap: 4, padding: 0,
    selectedMode: false,
    itemStyle: {opacity: 0},
    formatter: n => n.split('#')[0],
    textStyle: {fontFamily: FONT, fontSize: 15, color: '#111', padding: [0, 0, 0, 0]}
  });
  title.push({
    text: panelNames[i], left: p.title.left, top: p.title.top, padding: 0,
    textStyle: {fontFamily: FONT, fontSize: 22, fontWeight: 'normal', color: '#111'}
  });
});

const chart = echarts.init(document.getElementById('chart'), null, {renderer: 'canvas'});
chart.setOption({
  backgroundColor: '#ffffff',
  animation: false,
  title, legend, grid, xAxis, yAxis, series
});
</script>
</body>
</html>
